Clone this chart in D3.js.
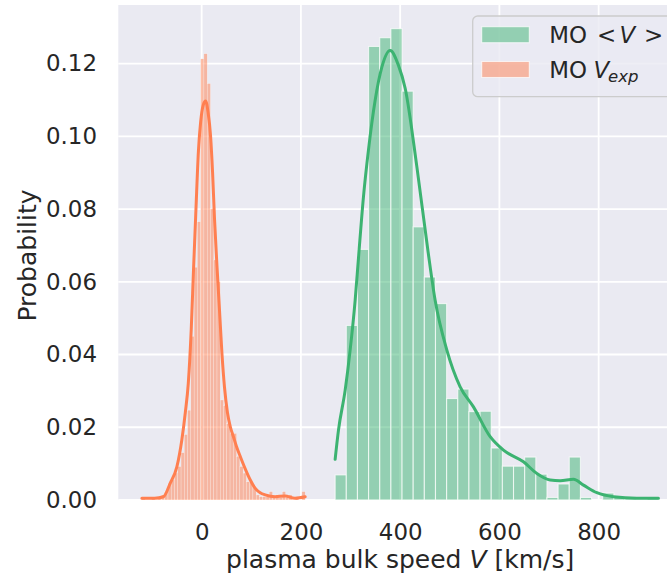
<!DOCTYPE html>
<html>
<head>
<meta charset="utf-8">
<script src="https://cdn.jsdelivr.net/npm/d3@7"></script>
<style>
  body { margin: 0; background: #ffffff; }
  text { font-family: "DejaVu Sans", sans-serif; fill: #262626; }
</style>
</head>
<body>
<svg id="chart" width="667" height="575"></svg>
<script>
// Distributions of magnetic-obstacle (MO) speeds: mean bulk speed <V> and expansion speed V_exp.
// Histograms are normalised to probability per bin; the curves are the matching KDEs.

// Mean bulk speed <V>: uniform bins spanning this range (km/s)
const meanSpeedRange = [269, 920.5];
const meanSpeedProb = [
  0.0069, 0.0480, 0.0689, 0.1247, 0.1271, 0.1296, 0.1124, 0.0751, 0.0613, 0.0540,
  0.0279, 0.0305, 0.0243, 0.0244, 0.0143, 0.0093, 0.0093, 0.0118, 0.0071, 0.0007,
  0.0044, 0.0118, 0.0007, 0.0000, 0.0019, 0.0007, 0.0007, 0.0000, 0.0007
];
const meanSpeedKdeX = [269, 275.7, 289.2, 299.2, 309.3, 316, 326, 336.1, 349.6, 363.1,
  379.8, 396.6, 410.1, 433.7, 456.4, 470.5, 494.1, 520.9, 547.7, 581.4,
  608.2, 648.5, 675.5, 702.3, 722.4, 749.2, 769.4, 796.4, 829.8, 877, 920.5];
const meanSpeedKdeY = [0.0112, 0.0192, 0.0302, 0.0412, 0.0549, 0.0665, 0.0833, 0.0962, 0.1099, 0.1190,
  0.1236, 0.1195, 0.1132, 0.0916, 0.0681, 0.0549, 0.0412, 0.0311, 0.0256, 0.0174,
  0.0137, 0.0105, 0.0073, 0.0055, 0.0053, 0.0057, 0.0041, 0.0020, 0.0009, 0.0005, 0.0005];

// Expansion speed V_exp: uniform bins spanning this range (km/s)
const expSpeedRange = [-120.5, 208.6];
const expSpeedProb = [
  0.0007, 0.0000, 0.0000, 0.0007, 0.0000, 0.0007, 0.0014, 0.0023, 0.0046, 0.0055,
  0.0074, 0.0092, 0.0130, 0.0180, 0.0247, 0.0450, 0.0640, 0.0765, 0.1213, 0.1227,
  0.1145, 0.0801, 0.0660, 0.0600, 0.0275, 0.0260, 0.0210, 0.0183, 0.0183, 0.0120,
  0.0092, 0.0074, 0.0050, 0.0050, 0.0037, 0.0014, 0.0009, 0.0009, 0.0009, 0.0023,
  0.0007, 0.0014, 0.0007, 0.0023, 0.0007, 0.0014, 0.0000, 0.0007, 0.0000, 0.0023
];
const expSpeedKdeX = [-120.5, -95, -77, -63.5, -50, -40, -33, -27, -21, -16.5,
  -11.5, -6.5, -2, 3, 8, 13, 18, 22, 26, 31,
  36, 41, 46, 52, 58, 64, 70, 78, 88, 98,
  108, 118, 128, 148, 168, 188, 208.6];
const expSpeedKdeY = [0.0005, 0.0005, 0.0009, 0.0046, 0.0091, 0.0165, 0.0240, 0.0320, 0.0470, 0.0630,
  0.0800, 0.0960, 0.1040, 0.1085, 0.1097, 0.1065, 0.1000, 0.0900, 0.0770, 0.0640,
  0.0520, 0.0400, 0.0310, 0.0240, 0.0200, 0.0174, 0.0148, 0.0119, 0.0085, 0.0055,
  0.0032, 0.0020, 0.0014, 0.0009, 0.0011, 0.0005, 0.0009];

const xTicks = [0, 200, 400, 600, 800];
const yTicks = [0, 0.02, 0.04, 0.06, 0.08, 0.10, 0.12];
const xDomain = [-168, 972];
const yDomain = [0, 0.1361];

const greenColor = "#3cb371";  // mediumseagreen
const orangeColor = "#ff7f50"; // coral
const panelColor = "#eaeaf2";

const svg = d3.select("#chart");
const box = { left: 118.3, right: 684, top: 5, bottom: 500 };

const x = d3.scaleLinear().domain(xDomain).range([box.left, box.right]);
const y = d3.scaleLinear().domain(yDomain).range([box.bottom, box.top]);

// panel background
svg.append("rect")
  .attr("x", box.left).attr("y", box.top)
  .attr("width", box.right - box.left).attr("height", box.bottom - box.top)
  .attr("fill", panelColor);

// grid
const grid = svg.append("g").attr("stroke", "#ffffff").attr("stroke-width", 1.8);
grid.selectAll("line.gx").data(xTicks).join("line")
  .attr("x1", d => x(d)).attr("x2", d => x(d))
  .attr("y1", box.top).attr("y2", box.bottom);
grid.selectAll("line.gy").data(yTicks).join("line")
  .attr("x1", box.left).attr("x2", box.right)
  .attr("y1", d => y(d)).attr("y2", d => y(d));

// histogram bins from a range and per-bin probabilities
function binsOf(range, probs) {
  const w = (range[1] - range[0]) / probs.length;
  return probs.map((p, i) => ({ x0: range[0] + i * w, x1: range[0] + (i + 1) * w, p }));
}

function drawHist(range, probs, color, edgeWidth) {
  svg.append("g").selectAll("rect").data(binsOf(range, probs)).join("rect")
    .attr("x", d => x(d.x0))
    .attr("y", d => y(d.p))
    .attr("width", d => x(d.x1) - x(d.x0))
    .attr("height", d => y(0) - y(d.p))
    .attr("fill", color).attr("fill-opacity", 0.5)
    .attr("stroke", "#ffffff").attr("stroke-opacity", 0.7)
    .attr("stroke-width", edgeWidth);
}

function drawKde(xs, ys, color) {
  const line = d3.line()
    .x(d => x(d[0])).y(d => y(d[1]))
    .curve(d3.curveMonotoneX);
  svg.append("path")
    .datum(d3.zip(xs, ys))
    .attr("d", line)
    .attr("fill", "none")
    .attr("stroke", color)
    .attr("stroke-width", 3)
    .attr("stroke-linecap", "round")
    .attr("stroke-linejoin", "round");
}

drawHist(meanSpeedRange, meanSpeedProb, greenColor, 1.1);
drawKde(meanSpeedKdeX, meanSpeedKdeY, greenColor);
drawHist(expSpeedRange, expSpeedProb, orangeColor, 0.35);
drawKde(expSpeedKdeX, expSpeedKdeY, orangeColor);

// axes (labels only, no tick marks)
const tickFont = 22.9;
const xAxis = svg.append("g")
  .attr("transform", `translate(0,${box.bottom})`)
  .call(d3.axisBottom(x).tickValues(xTicks).tickSize(0).tickPadding(24).tickFormat(d3.format("d")));
xAxis.select(".domain").remove();
xAxis.selectAll("text").attr("font-size", tickFont).attr("fill", "#262626")
  .style("font-family", '"DejaVu Sans", sans-serif');

const yAxis = svg.append("g")
  .attr("transform", `translate(${box.left},0)`)
  .call(d3.axisLeft(y).tickValues(yTicks).tickSize(0).tickPadding(21.3).tickFormat(d3.format(".2f")));
yAxis.select(".domain").remove();
yAxis.selectAll("text").attr("font-size", tickFont).attr("fill", "#262626")
  .style("font-family", '"DejaVu Sans", sans-serif');

// axis titles
const xTitle = svg.append("text")
  .attr("x", (x(-168) + x(972)) / 2 - 1).attr("y", 568)
  .attr("text-anchor", "middle").attr("font-size", 25);
xTitle.append("tspan").text("plasma bulk speed ");
xTitle.append("tspan").attr("font-style", "italic").text("V");
xTitle.append("tspan").text(" [km/s]");

svg.append("text")
  .attr("transform", `translate(36,${(box.top + box.bottom) / 2 + 3}) rotate(-90)`)
  .attr("text-anchor", "middle").attr("font-size", 25)
  .text("Probability");

// legend
const legend = svg.append("g");
legend.append("rect")
  .attr("x", 472.7).attr("y", 16).attr("width", 230).attr("height", 80.7)
  .attr("rx", 5)
  .attr("fill", panelColor).attr("fill-opacity", 0.8)
  .attr("stroke", "#cccccc").attr("stroke-width", 1.3);

const legendRows = [
  { color: greenColor, top: 26.7, baseline: 43.2 },
  { color: orangeColor, top: 61.5, baseline: 77.8 }
];
legend.selectAll("rect.swatch").data(legendRows).join("rect")
  .attr("class", "swatch")
  .attr("x", 481.7).attr("y", d => d.top)
  .attr("width", 47.6).attr("height", 16)
  .attr("fill", d => d.color).attr("fill-opacity", 0.5)
  .attr("stroke", "#ffffff").attr("stroke-opacity", 0.7).attr("stroke-width", 1.1);

const l1 = legend.append("text").attr("y", legendRows[0].baseline).attr("font-size", tickFont);
l1.append("tspan").attr("x", 549.3).text("MO");
l1.append("tspan").attr("x", 597).text("<");
l1.append("tspan").attr("x", 619.5).attr("font-style", "italic").text("V");
l1.append("tspan").attr("x", 644).text(">");

const l2 = legend.append("text").attr("y", legendRows[1].baseline).attr("font-size", tickFont);
l2.append("tspan").attr("x", 549.3).text("MO");
l2.append("tspan").attr("x", 593.5).attr("font-style", "italic").text("V");
l2.append("tspan").attr("x", 608).attr("dy", 4.5).attr("font-size", 16.5)
  .attr("font-style", "italic").text("exp");
</script>
</body>
</html>
